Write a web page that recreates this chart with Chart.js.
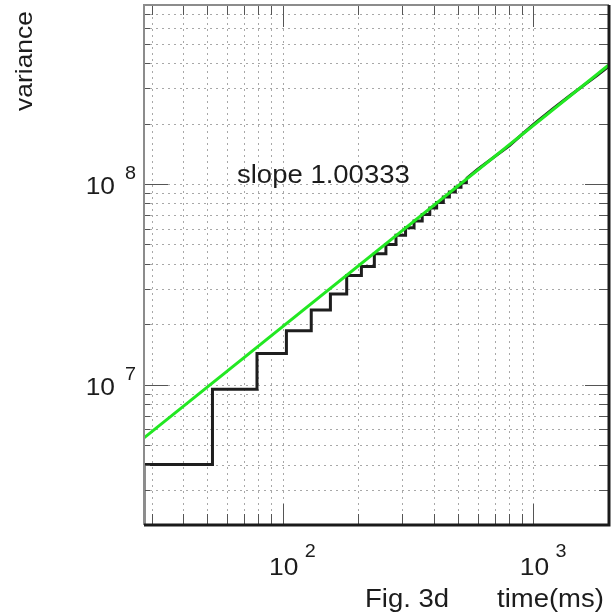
<!DOCTYPE html>
<html>
<head>
<meta charset="utf-8">
<script src="https://cdn.jsdelivr.net/npm/chart.js@4"></script>
<style>
  html, body { margin: 0; padding: 0; background: #fff; }
  #wrap { width: 614px; height: 615px; position: relative; }
</style>
</head>
<body>
<div id="wrap"><canvas id="fig3d"></canvas></div>
<script>
// Fig. 3d -- variance vs. time, log-log, with power-law fit (slope 1.00333)

// measured variance: staircase part (value holds from each time to the next)
const stepTimes = [28, 28, 52.5, 79, 103.5, 130, 155, 180, 206, 232, 258, 283, 309, 334, 360, 386, 411, 437, 462, 488, 514, 540];
const stepVariance = [1.5e6, 4.0e6, 9.5e6, 1.43e7, 1.86e7, 2.36e7, 2.83e7, 3.5e7, 3.88e7, 4.5e7, 5.0e7, 5.55e7, 6.05e7, 6.55e7, 7.05e7, 7.6e7, 8.1e7, 8.62e7, 9.12e7, 9.65e7, 1.015e8, 1.065e8];

// measured variance: long-time part, steps too fine to see
const tailTimes = [540, 600, 700, 800, 900, 1000, 1200, 1400, 1600, 1800, 2000];
const tailVariance = [1.065e8, 1.185e8, 1.37e8, 1.55e8, 1.77e8, 1.98e8, 2.38e8, 2.76e8, 3.13e8, 3.49e8, 3.87e8];

// fitted power law (straight line on log-log)
const fitTimes = [28, 2000];
const fitVariance = [5.43e6, 3.93e8];

// axis ranges, grid and labels
const xRange = [28, 2000];
const yRange = [2e6, 7.8e8];
const xGridValues = [30, 40, 50, 60, 70, 80, 90, 100, 200, 300, 400, 500, 600, 700, 800, 900, 1000];
const yGridValues = [3e6, 4e6, 5e6, 6e6, 7e6, 8e6, 9e6, 1e7, 2e7, 3e7, 4e7, 5e7, 6e7, 7e7, 8e7, 9e7,
                     1e8, 2e8, 3e8, 4e8, 5e8, 6e8, 7e8];
const xMajor = [100, 1000];
const yMajor = [1e7, 1e8];
const xTickLabels = [{ value: 100, exp: "2" }, { value: 1000, exp: "3" }];
const yTickLabels = [{ value: 1e7, exp: "7" }, { value: 1e8, exp: "8" }];

const FONT = '"Liberation Sans", Arial, Helvetica, sans-serif';
const TEXT_COLOR = "#1c1c1c";

function toPoints(xs, ys) {
  return xs.map((x, i) => ({ x: x, y: ys[i] }));
}

function stretchedText(ctx, str, x, y, size, align) {
  ctx.save();
  ctx.font = size + "px " + FONT;
  ctx.textAlign = align || "left";
  ctx.textBaseline = "alphabetic";
  ctx.fillStyle = TEXT_COLOR;
  ctx.translate(x, y);
  ctx.scale(1.1, 1);
  ctx.fillText(str, 0, 0);
  ctx.restore();
}

const gridPlugin = {
  id: "dottedGrid",
  beforeDatasetsDraw(chart) {
    const { ctx, chartArea: a, scales } = chart;
    ctx.save();
    ctx.strokeStyle = "#a8a8a8";
    ctx.lineWidth = 1;
    ctx.setLineDash([2, 4]);
    xGridValues.forEach((v) => {
      const px = Math.round(scales.x.getPixelForValue(v)) + 0.5;
      ctx.beginPath();
      ctx.moveTo(px, a.top);
      ctx.lineTo(px, a.bottom);
      ctx.stroke();
    });
    yGridValues.forEach((v) => {
      const py = Math.round(scales.y.getPixelForValue(v)) + 0.5;
      ctx.beginPath();
      ctx.moveTo(a.left, py);
      ctx.lineTo(a.right, py);
      ctx.stroke();
    });
    ctx.restore();
  },
};

const framePlugin = {
  id: "frameAndLabels",
  afterDraw(chart) {
    const { ctx, chartArea: a, scales } = chart;
    ctx.save();
    // inward tick marks on all four sides
    ctx.strokeStyle = "#555";
    ctx.lineWidth = 1;
    xGridValues.forEach((v) => {
      const px = Math.round(scales.x.getPixelForValue(v)) + 0.5;
      const big = xMajor.includes(v);
      ctx.beginPath();
      ctx.moveTo(px, a.bottom);
      ctx.lineTo(px, a.bottom - (big ? 21 : 11));
      ctx.moveTo(px, a.top);
      ctx.lineTo(px, a.top + (big ? 22 : 10));
      ctx.stroke();
    });
    yGridValues.forEach((v) => {
      const py = Math.round(scales.y.getPixelForValue(v)) + 0.5;
      const big = yMajor.includes(v);
      ctx.beginPath();
      ctx.moveTo(a.left, py);
      ctx.lineTo(a.left + (big ? 24 : 6), py);
      ctx.moveTo(a.right, py);
      ctx.lineTo(a.right - (big ? 24 : 10), py);
      ctx.stroke();
    });

    // frame: light top/left, dark right/bottom
    ctx.lineWidth = 2;
    ctx.strokeStyle = "#8c8c8c";
    ctx.beginPath();
    ctx.moveTo(a.left, a.bottom);
    ctx.lineTo(a.left, a.top);
    ctx.lineTo(a.right, a.top);
    ctx.stroke();
    ctx.lineWidth = 3;
    ctx.strokeStyle = "#1a1a1a";
    ctx.beginPath();
    ctx.moveTo(a.right, a.top);
    ctx.lineTo(a.right, a.bottom);
    ctx.lineTo(a.left, a.bottom);
    ctx.stroke();
    ctx.restore();

    // tick labels 10^n
    xTickLabels.forEach((t) => {
      const px = scales.x.getPixelForValue(t.value);
      stretchedText(ctx, "10", px + 1, a.bottom + 50, 24, "center");
      stretchedText(ctx, t.exp, px + 22, a.bottom + 32, 18, "left");
    });
    yTickLabels.forEach((t) => {
      const py = scales.y.getPixelForValue(t.value);
      stretchedText(ctx, "10", 115, py + 10, 24, "right");
      stretchedText(ctx, t.exp, 125, py - 5, 18, "left");
    });

    // texts
    stretchedText(ctx, "slope 1.00333", 237, 183, 25, "left");
    stretchedText(ctx, "Fig. 3d", 365, 607, 25, "left");
    stretchedText(ctx, "time(ms)", 497, 607, 25, "left");

    ctx.save();
    ctx.translate(32, 61);
    ctx.rotate(-Math.PI / 2);
    stretchedText(ctx, "variance", 0, 0, 24, "center");
    ctx.restore();
  },
};

new Chart(document.getElementById("fig3d"), {
  type: "line",
  data: {
    datasets: [
      {
        label: "fit",
        data: toPoints(fitTimes, fitVariance),
        borderColor: "#22e822",
        borderWidth: 3,
        pointRadius: 0,
        tension: 0,
      },
      {
        label: "variance",
        data: toPoints(stepTimes, stepVariance),
        borderColor: "#1e1e1e",
        borderWidth: 3,
        pointRadius: 0,
        stepped: true,
      },
      {
        label: "variance (long times)",
        data: toPoints(tailTimes, tailVariance),
        borderColor: "#1e1e1e",
        borderWidth: 3,
        pointRadius: 0,
        tension: 0,
      },
    ],
  },
  options: {
    responsive: true,
    maintainAspectRatio: false,
    animation: false,
    layout: { padding: { left: 144, right: 5, top: 5, bottom: 90 } },
    plugins: {
      legend: { display: false },
      tooltip: { enabled: false },
    },
    scales: {
      x: { type: "logarithmic", min: xRange[0], max: xRange[1], display: false },
      y: { type: "logarithmic", min: yRange[0], max: yRange[1], display: false },
    },
  },
  plugins: [gridPlugin, framePlugin],
});
</script>
</body>
</html>
